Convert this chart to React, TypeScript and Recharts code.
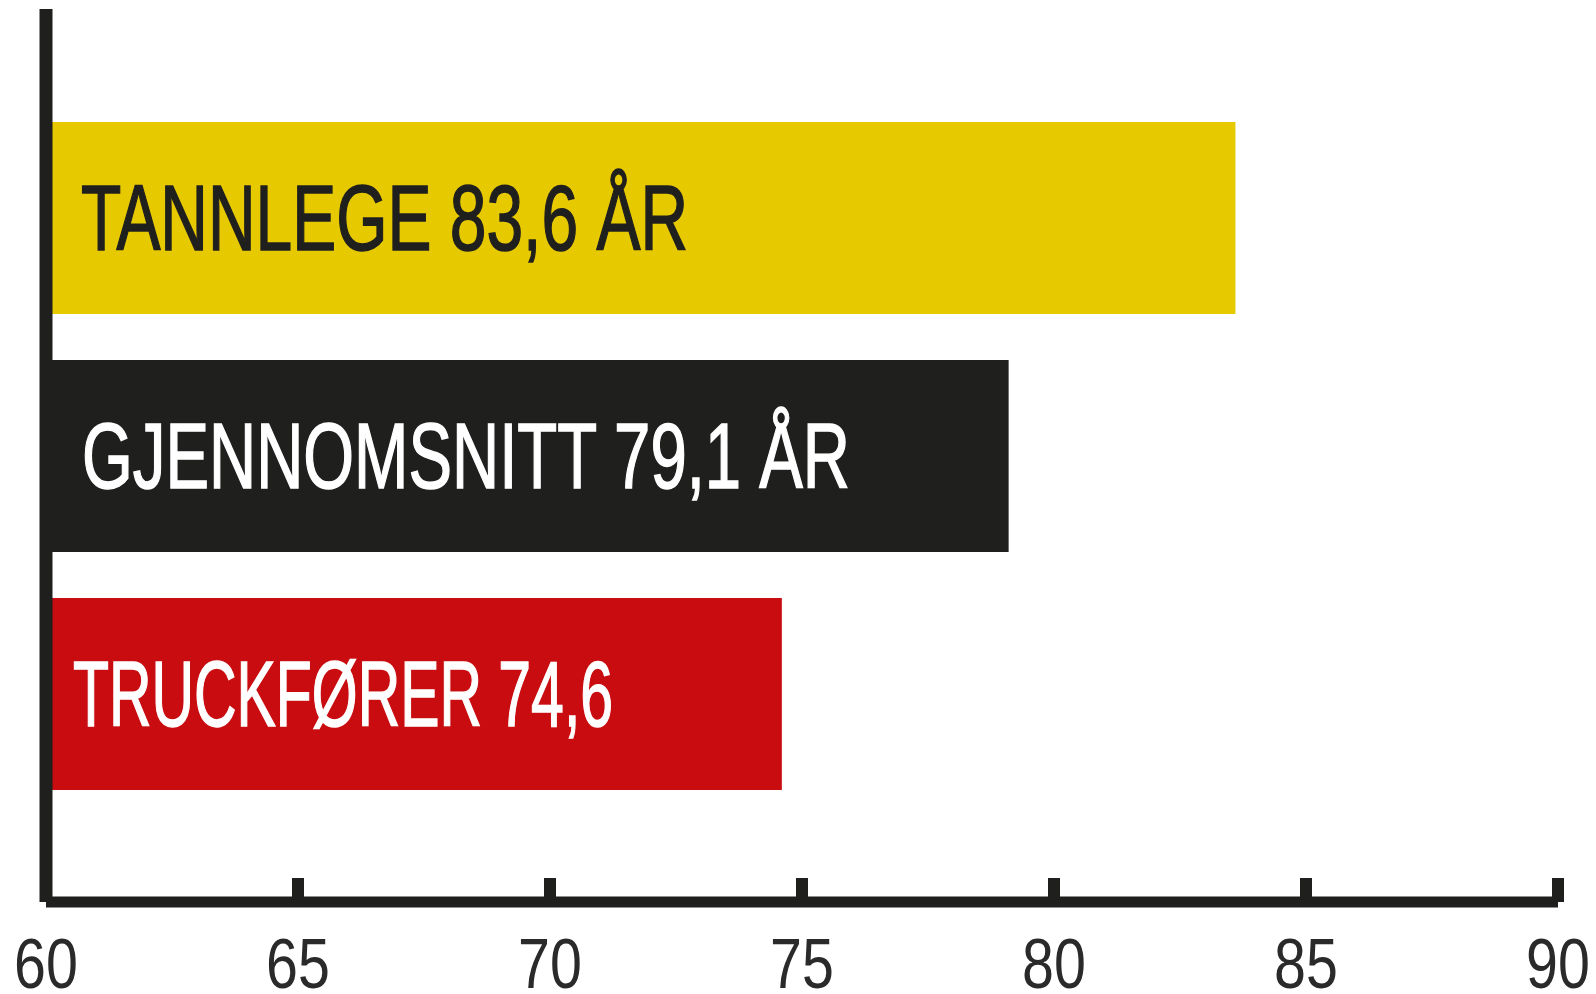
import React from "react";
import { BarChart, Bar, XAxis, YAxis, Cell, LabelList, ReferenceLine } from "recharts";

// categories and values
const categories = ["TANNLEGE", "GJENNOMSNITT", "TRUCKFØRER"];
const ages = [83.6, 79.1, 74.6];
const suffixes = [" ÅR", " ÅR", ""];
const xTicks = [60, 65, 70, 75, 80, 85, 90];

const barColors = ["#e7c900", "#1f1f1e", "#c90c10"];
const labelColors = ["#1f1f1e", "#ffffff", "#ffffff"];
const labelIndent = [35, 36, 27];
const labelWidth = [607, 768, 540];
const INK = "#1f1f1e";

const data = categories.map((name, i) => ({ name, age: ages[i] }));

function XTick(props: any) {
  const { x, y, payload } = props;
  return (
    <g>
      <rect x={x - 6} y={y - 24} width={12} height={24} fill={INK} />
      <text
        transform={`translate(${x} ${y + 86}) scale(0.82 1)`}
        textAnchor="middle"
        fontFamily="'Liberation Sans', Arial, sans-serif"
        fontSize={70}
        fill="#2a2a2a"
      >
        {payload.value}
      </text>
    </g>
  );
}

function BarText(props: any) {
  const { x, y, height, index } = props;
  const label = `${categories[index]} ${ages[index].toFixed(1).replace(".", ",")}${suffixes[index]}`;
  const color = labelColors[index];
  return (
    <text
      x={x + labelIndent[index]}
      y={y + height / 2 + 32}
      textLength={labelWidth[index]}
      lengthAdjust="spacingAndGlyphs"
      fontFamily="'Liberation Sans', Arial, sans-serif"
      fontSize={92}
      fill={color}
      stroke={color}
      strokeWidth={1.5}
    >
      {label}
    </text>
  );
}

export default function App() {
  return (
    <div style={{ width: 1580, height: 986 }}>
      <BarChart
        width={1580}
        height={986}
        data={data}
        layout="vertical"
        margin={{ top: 1, right: 30, bottom: 0, left: 38 }}
        style={{ overflow: "visible" }}
      >
        <Bar dataKey="age" barSize={192} isAnimationActive={false}>
          {data.map((d, i) => (
            <Cell key={d.name} fill={barColors[i]} />
          ))}
          <LabelList dataKey="age" content={<BarText />} />
        </Bar>
        <XAxis
          type="number"
          domain={[60, 90]}
          ticks={xTicks}
          allowDataOverflow
          height={92}
          tickSize={0}
          tickMargin={0}
          tickLine={false}
          axisLine={{ stroke: INK, strokeWidth: 11 }}
          tick={<XTick />}
          interval={0}
        />
        <YAxis
          type="category"
          dataKey="name"
          width={0}
          hide
          padding={{ top: 90, bottom: 89 }}
        />
        <ReferenceLine x={60} stroke={INK} strokeWidth={13} ifOverflow="visible" />
      </BarChart>
    </div>
  );
}
